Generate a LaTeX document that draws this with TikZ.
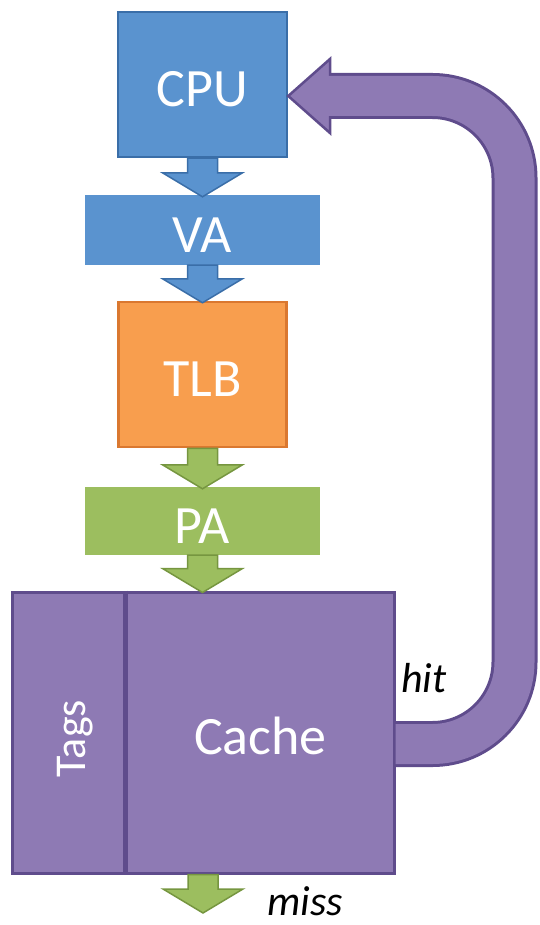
\documentclass[tikz,border=0pt]{standalone}
\usepackage{fontspec}
\setmainfont{Carlito}
\usetikzlibrary{calc}
\definecolor{bfill}{RGB}{90,147,207}
\definecolor{bline}{RGB}{58,110,168}
\definecolor{ofill}{RGB}{248,158,78}
\definecolor{oline}{RGB}{218,120,48}
\definecolor{gfill}{RGB}{156,190,95}
\definecolor{gline}{RGB}{118,150,64}
\definecolor{pfill}{RGB}{142,122,180}
\definecolor{pline}{RGB}{95,76,140}
\tikzset{
  biglbl/.style={text=white, font=\fontsize{54}{60}\selectfont, text height=44pt, text depth=0pt, inner sep=0pt},
  bluebox/.style={fill=bfill, draw=bline, line width=2.5pt, inner sep=0pt},
  bluebar/.style={fill=bfill, draw=none, inner sep=0pt},
  orangebox/.style={fill=ofill, draw=oline, line width=2.5pt, inner sep=0pt},
  greenbar/.style={fill=gfill, draw=none, inner sep=0pt},
  purplebox/.style={fill=pfill, draw=pline, line width=3pt, inner sep=0pt},
  bluearrow/.style={fill=bfill, draw=bline, line width=1.5pt, line join=miter},
  greenarrow/.style={fill=gfill, draw=gline, line width=1.5pt, line join=miter},
  notelbl/.style={text=black, font=\itshape\fontsize{42}{48}\selectfont, inner sep=0pt},
}
\newcommand\blkarrow[3]{%
  \path[#1] let \p1=#2, \p2=#3 in
    (\x1-15pt,\y1) -- (\x1-15pt,\y2+22pt) -- (\x1-40pt,\y2+22pt) -- (\x1,\y2-2pt)
    -- (\x1+40pt,\y2+22pt) -- (\x1+15pt,\y2+22pt) -- (\x1+15pt,\y1) -- cycle;}
\begin{document}
\begin{tikzpicture}[x=1pt,y=-1pt]
\useasboundingbox (0,0) rectangle (539,925);
% boxes
\node[bluebox, minimum width=169pt, minimum height=145pt] (cpu) at (202.5,84.5) {};
\node[biglbl] (cpulbl) at (cpu.center) {CPU};
\node[bluebar, minimum width=235pt, minimum height=70pt] (va) at (202.5,230) {};
\node[biglbl] (valbl) at (va.center) {VA};
\node[orangebox, minimum width=168pt, minimum height=145pt] (tlb) at (202.5,374.5) {};
\node[biglbl] (tlblbl) at (tlb.center) {TLB};
\node[greenbar, minimum width=235pt, minimum height=68pt] (pa) at (202.5,521) {};
\node[biglbl] (palbl) at (pa.center) {PA};
% hit arrow (drawn before cache box)
\coordinate (hitstart) at (394,744);
\coordinate (hitturn1) at (514.5,744);
\coordinate (hitturn2) at (514.5,96);
\coordinate (hitbase) at (330,96);
\draw[pline, line width=46pt, rounded corners=82pt] (hitstart) -- (hitturn1) -- (hitturn2) -- (hitbase);
\node[purplebox, minimum width=382pt, minimum height=281pt] (cachebox) at (203,732.5) {};
\draw[pline, line width=5pt] (cachebox.north west) ++(115,0) coordinate (divtop) -- (divtop |- cachebox.south);
\node[biglbl] (cachelbl) at (260.5,732.5) {Cache};
\node[text=white, font=\fontsize{44}{50}\selectfont, inner sep=0pt, rotate=90] (tagslbl) at (75,738.5) {Tags};
% hit arrow head and inner fill
\path[fill=pfill, draw=pline, line width=2.5pt, line join=miter]
  (hitbase) ++(0,-37) -- (cpu.east |- hitbase) -- ($(hitbase)+(0,37)$) -- cycle;
\draw[pfill, line width=40pt, rounded corners=82pt] ($(hitstart)+(1.5,0)$) -- (hitturn1) -- (hitturn2) -- ($(hitbase)+(-3,0)$);
% down arrows
\blkarrow{bluearrow}{(cpu.south)}{(va.north)}
\blkarrow{bluearrow}{(va.south)}{(tlb.north)}
\blkarrow{greenarrow}{(tlb.south)}{(pa.north)}
\blkarrow{greenarrow}{(pa.south)}{(cachebox.north)}
\coordinate (missend) at (203,911);
\blkarrow{greenarrow}{(cachebox.south)}{(missend)}
% labels
\node[notelbl] (hitlbl) at (424,678.5) {hit};
\node[notelbl] (misslbl) at (305.5,901.5) {miss};
\end{tikzpicture}
\end{document}
